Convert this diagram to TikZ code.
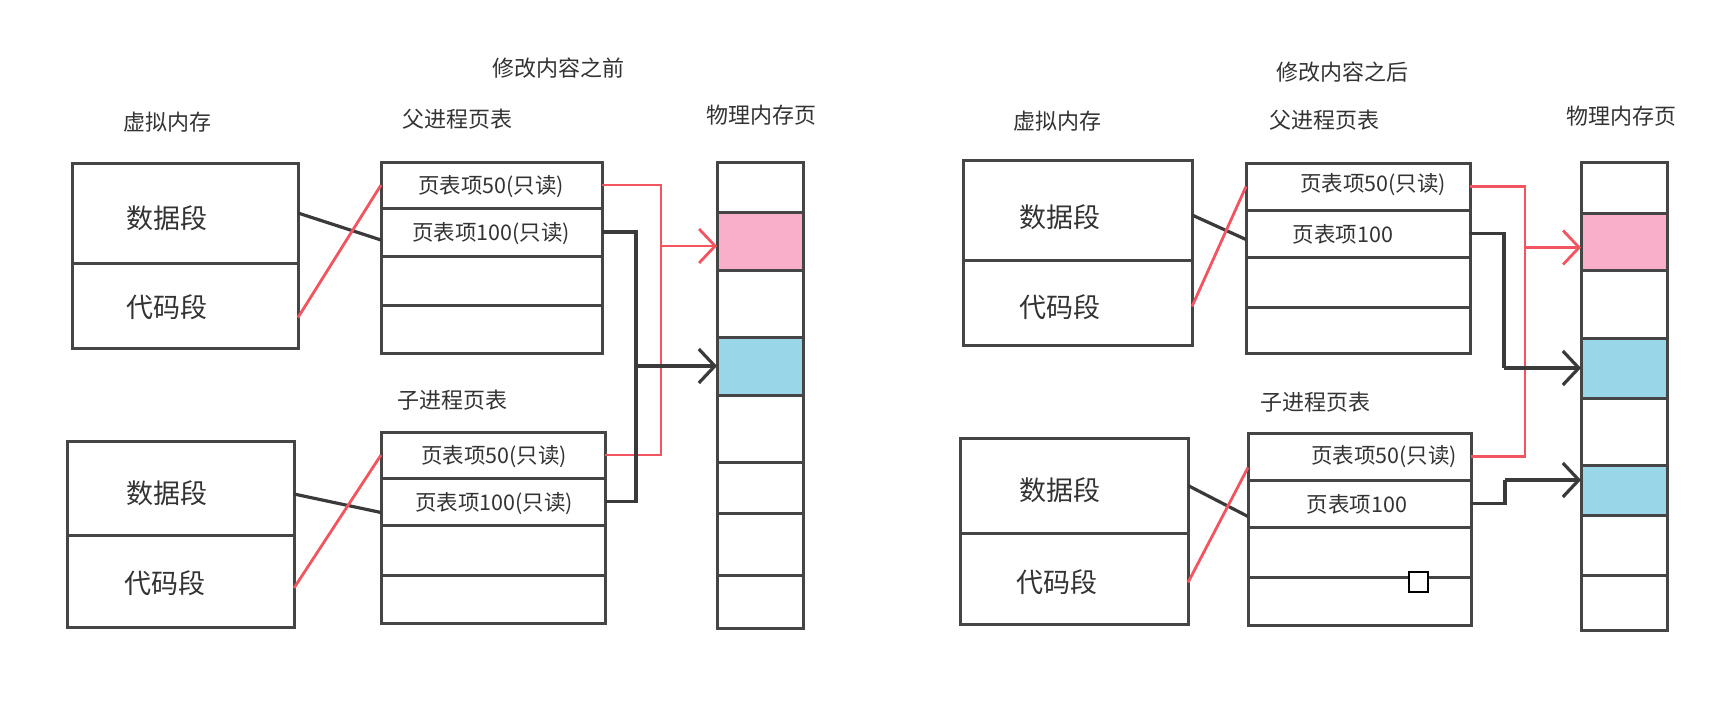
\documentclass[tikz,border=0pt]{standalone}
\usepackage{fontspec}
\newfontfamily\cjk{Noto Sans CJK SC}
\usetikzlibrary{arrows.meta}
\definecolor{boxc}{HTML}{454545}
\definecolor{txt}{HTML}{333333}
\definecolor{redl}{HTML}{F2555F}
\definecolor{pinkc}{HTML}{F9AECA}
\definecolor{cyanc}{HTML}{98D6E8}
\definecolor{darkl}{HTML}{3A3A3A}
\newcommand{\cellbox}[6]{\node[cell,fill=#6,minimum width={#4pt-#2pt},minimum height={#5pt-#3pt}] (#1) at ({(#2+#4)/2},{(#3+#5)/2}) {};}
\begin{document}
\begin{tikzpicture}[x=1pt,y=-1pt,
  cell/.style={draw=boxc,line width=3pt,inner sep=0pt,outer sep=0pt},
  lbl/.style={font=\cjk\fontsize{22}{24}\selectfont,text=txt,inner sep=0pt},
  seg/.style={font=\cjk\fontsize{27}{30}\selectfont,text=txt,inner sep=0pt},
  pte/.style={font=\cjk\fontsize{21.5}{23}\selectfont,text=txt,inner sep=0pt},
  redline/.style={draw=redl,line width=2.8pt},
  blkline/.style={draw=darkl,line width=3.2pt},
  tip/.style={-{Straight Barb[length=16pt,width=34pt]}}]
\fill[white] (0,0) rectangle (1728,704);
\useasboundingbox (0,0) rectangle (1728,704);

% ================= LEFT =================
\node[lbl] (tL) at (558,68) {修改内容之前};
\node[lbl] (vmL) at (167,122) {虚拟内存};
\node[lbl] (ppL) at (457,119) {父进程页表};
\node[lbl] (pmL) at (761,115) {物理内存页};
\node[lbl] (cpL) at (452,400) {子进程页表};

% virtual memory boxes
\cellbox{vdA}{72}{163}{298}{263}{white}
\cellbox{vcA}{72}{263}{298}{348}{white}
\cellbox{vdB}{67}{441}{294}{535}{white}
\cellbox{vcB}{67}{535}{294}{627}{white}
\node[seg] (sdA) at (167,218) {数据段};
\node[seg] (scA) at (167,307) {代码段};
\node[seg] (sdB) at (167,493) {数据段};
\node[seg] (scB) at (165,583) {代码段};

% parent table
\cellbox{pA1}{381}{162}{602}{208}{white}
\cellbox{pA2}{381}{208}{602}{256}{white}
\cellbox{pA3}{381}{256}{602}{305}{white}
\cellbox{pA4}{381}{305}{602}{353}{white}
% child table
\cellbox{cA1}{381}{432}{605}{478}{white}
\cellbox{cA2}{381}{478}{605}{525}{white}
\cellbox{cA3}{381}{525}{605}{575}{white}
\cellbox{cA4}{381}{575}{605}{623}{white}
\node[pte] (tpA1) at (491,187) {页表项50(只读)};
\node[pte] (tpA2) at (491,234) {页表项100(只读)};
\node[pte] (tcA1) at (494,457) {页表项50(只读)};
\node[pte] (tcA2) at (494,504) {页表项100(只读)};

% physical memory
\cellbox{mA1}{717}{162}{803}{212}{white}
\cellbox{mA2}{717}{212}{803}{270}{pinkc}
\cellbox{mA3}{717}{270}{803}{337}{white}
\cellbox{mA4}{717}{337}{803}{395}{cyanc}
\cellbox{mA5}{717}{395}{803}{462}{white}
\cellbox{mA6}{717}{462}{803}{513}{white}
\cellbox{mA7}{717}{513}{803}{575}{white}
\cellbox{mA8}{717}{575}{803}{628}{white}

% mapping lines
\draw[blkline] (vdA.east) -- ([yshift=-8pt]pA2.west);
\draw[redline] ([yshift=-12pt]vcA.east) -- (pA1.west);
\draw[blkline] ([yshift=-6pt]vdB.east) -- ([yshift=-11pt]cA2.west);
\draw[redline] ([yshift=-7pt]vcB.east) -- (cA1.west);

\coordinate (rxA) at (661,0);
\coordinate (bxA) at (636,0);
\draw[redline] (pA1.east) -- (pA1.east -| rxA) -- (cA1.east -| rxA) -- (cA1.east);
\draw[redline,tip] ([yshift=-5pt]mA2.west -| rxA) -- ([yshift=-5pt]mA2.west);
\draw[blkline] (pA2.east) -- (pA2.east -| bxA) -- (cA2.east -| bxA) -- (cA2.east);
\draw[blkline,tip] (mA4.west -| bxA) -- (mA4.west);

% ================= RIGHT =================
\node[lbl] (tR) at (1342,72) {修改内容之后};
\node[lbl] (vmR) at (1057,121) {虚拟内存};
\node[lbl] (ppR) at (1324,120) {父进程页表};
\node[lbl] (pmR) at (1621,116) {物理内存页};
\node[lbl] (cpR) at (1315,402) {子进程页表};

\cellbox{vdC}{963}{160}{1192}{260}{white}
\cellbox{vcC}{963}{260}{1192}{345}{white}
\cellbox{vdD}{960}{438}{1188}{533}{white}
\cellbox{vcD}{960}{533}{1188}{624}{white}
\node[seg] (sdC) at (1060,217) {数据段};
\node[seg] (scC) at (1060,307) {代码段};
\node[seg] (sdD) at (1060,490) {数据段};
\node[seg] (scD) at (1057,582) {代码段};

\cellbox{pC1}{1246}{163}{1470}{210}{white}
\cellbox{pC2}{1246}{210}{1470}{257}{white}
\cellbox{pC3}{1246}{257}{1470}{307}{white}
\cellbox{pC4}{1246}{307}{1470}{353}{white}
\cellbox{cC1}{1248}{433}{1471}{480}{white}
\cellbox{cC2}{1248}{480}{1471}{527}{white}
\cellbox{cC3}{1248}{527}{1471}{577}{white}
\cellbox{cC4}{1248}{577}{1471}{625}{white}
\node[pte] (tpC1) at (1373,185) {页表项50(只读)};
\node[pte] (tpC2) at (1343,234) {页表项100};
\node[pte] (tcC1) at (1384,457) {页表项50(只读)};
\node[pte] (tcC2) at (1357,504) {页表项100};
\node[draw=black,fill=white,line width=2pt,minimum width=19pt,minimum height=20pt,inner sep=0pt] (sq) at (1418,582) {};

\cellbox{mC1}{1581}{162}{1667}{213}{white}
\cellbox{mC2}{1581}{213}{1667}{270}{pinkc}
\cellbox{mC3}{1581}{270}{1667}{338}{white}
\cellbox{mC4}{1581}{338}{1667}{398}{cyanc}
\cellbox{mC5}{1581}{398}{1667}{465}{white}
\cellbox{mC6}{1581}{465}{1667}{515}{cyanc}
\cellbox{mC7}{1581}{515}{1667}{575}{white}
\cellbox{mC8}{1581}{575}{1667}{630}{white}

\draw[blkline] ([yshift=-5pt]vdC.east) -- ([yshift=-6pt]pC2.west);
\draw[redline] ([yshift=-4pt]vcC.east) -- (pC1.west);
\draw[blkline] (vdD.east) -- ([yshift=-13pt]cC2.west);
\draw[redline] ([yshift=-4pt]vcD.east) -- ([yshift=-11pt]cC1.west);

\coordinate (rxC) at (1525,0);
\coordinate (bxC) at (1504,0);
\coordinate (bxD) at (1505,0);
\draw[redline] (pC1.east) -- (pC1.east -| rxC) -- (cC1.east -| rxC) -- (cC1.east);
\draw[redline,tip] ([yshift=-6pt]mC2.west -| rxC) -- ([yshift=-6pt]mC2.west);
\draw[blkline] (pC2.east) -- (pC2.east -| bxC) -- (mC4.west -| bxC);
\draw[blkline,tip] (mC4.west -| bxC) -- (mC4.west);
\draw[blkline] (cC2.east) -- (cC2.east -| bxD) -- ([yshift=10pt]mC6.west -| bxD);
\draw[blkline,tip] ([yshift=10pt]mC6.west -| bxD) -- ([yshift=10pt]mC6.west);
\end{tikzpicture}
\end{document}
